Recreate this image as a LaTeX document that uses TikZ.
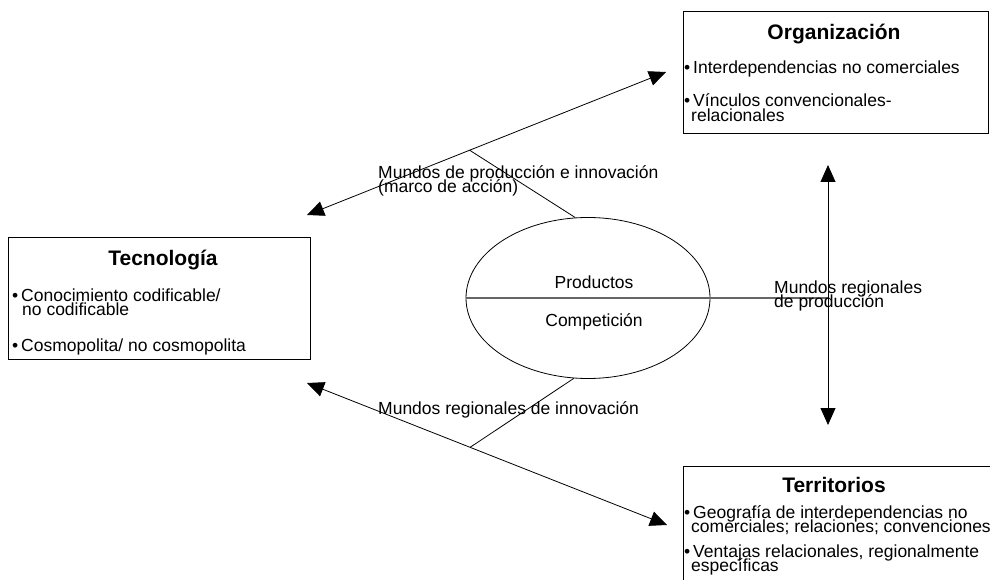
\documentclass[tikz,border=0pt]{standalone}
\usepackage{fontspec}
\setmainfont{Liberation Sans}
\usetikzlibrary{arrows.meta,shapes.geometric,positioning}

\begin{document}
\begin{tikzpicture}[x=1pt,y=-1pt,
    box/.style={draw,line width=0.8pt,inner sep=0,anchor=north west},
    ttl/.style={font=\bfseries\fontsize{21}{21}\selectfont,anchor=base,inner sep=0},
    txt/.style={font=\fontsize{17.5}{12}\selectfont,anchor=base west,inner sep=0},
    biarrow/.style={{Triangle[length=17pt,width=15pt]}-{Triangle[length=17pt,width=15pt]},line width=0.8pt}]
        \clip (0,0) rectangle (990,580);
        \fill[white] (0,0) rectangle (990,580);

        %boxes
        \node[box,minimum width=305pt,minimum height=122pt] (org) at (683,11) {};
        \node[box,minimum width=302pt,minimum height=122pt] (tec) at (8,237) {};
        \node[box,minimum width=330pt,minimum height=140pt] (ter) at (683,466) {};

        %titles and items
        \begin{scope}[every node/.style={txt}]
            \node[ttl] (orgT) at (834,40) {Organización};
            \node (org1) at (684,74) {•\,Interdependencias no comerciales};
            \node (org2) at (684,107) {•\,Vínculos convencionales-};
            \node (org2b) at (691,122) {relacionales};

            \node[ttl] (tecT) at (163,265) {Tecnología};
            \node (tec1) at (12,301) {•\,Conocimiento codificable/};
            \node (tec1b) at (22,315) {no codificable};
            \node (tec2) at (12,351) {•\,Cosmopolita/ no cosmopolita};

            \node[ttl] (terT) at (834,492) {Territorios};
            \node (ter1) at (684,518) {•\,Geografía de interdependencias no};
            \node (ter1b) at (691,532) {comerciales; relaciones; convenciones};
            \node (ter2) at (684,557) {•\,Ventajas relacionales, regionalmente};
            \node (ter2b) at (691,571) {específicas};
        \end{scope}

        %ellipse
        \node[draw,ellipse,line width=0.8pt,inner sep=0,minimum width=244pt,minimum height=161pt] (prod) at (588,298) {};
        \node[txt,anchor=base] (prodA) at (594,288) {Productos};
        \node[txt,anchor=base] (prodB) at (594,326) {Competición};

        %arrows
        \coordinate (ua) at (307,215);
        \coordinate (ub) at (666,72);
        \coordinate (la) at (307,383);
        \coordinate (lb) at (667,525);
        \coordinate (vt) at (828,165);
        \coordinate (vb) at (828,425);
        \draw[biarrow] (ua) -- (ub) coordinate[pos=0.453] (um);
        \draw[biarrow] (la) -- (lb) coordinate[pos=0.453] (lm);
        \draw[biarrow] (vt) -- (vb);
        \draw[line width=0.8pt] (um) -- (prod.99);
        \draw[line width=0.8pt] (lm) -- (prod.260);
        \draw[gray!80!black,line width=1.4pt] (prod.west) -- (prod.west -| vt);

        %labels
        \begin{scope}[every node/.style={txt}]
            \node (mpi) at (378,179) {Mundos de producción e innovación};
            \node (mpib) at (378,193) {(marco de acción)};
            \node (mri) at (378,414) {Mundos regionales de innovación};
            \node (mrp) at (774,293) {Mundos regionales};
            \node (mrpb) at (774,307) {de producción};
        \end{scope}
\end{tikzpicture}
\end{document}
